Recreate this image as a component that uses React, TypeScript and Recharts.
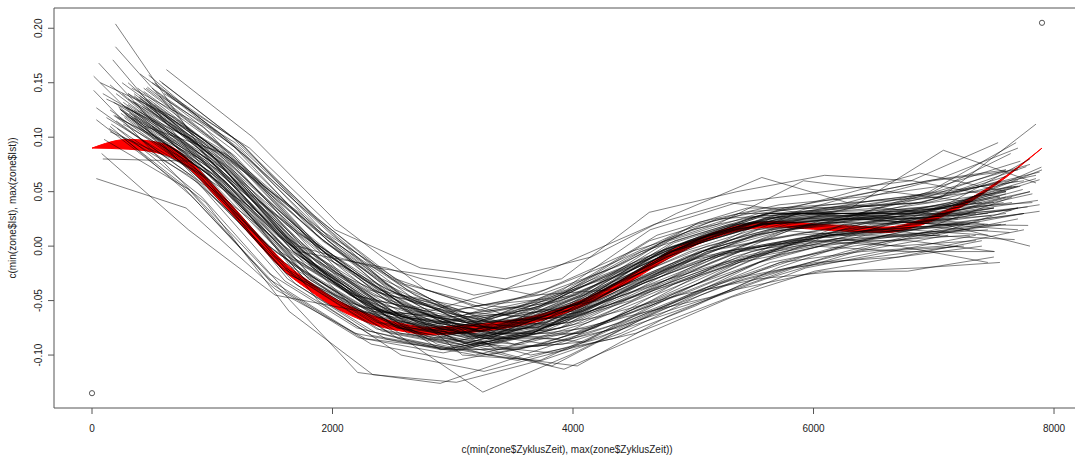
import React from 'react';
import {
  ComposedChart,
  Line,
  Area,
  Scatter,
  XAxis,
  YAxis,
  ReferenceArea,
} from 'recharts';

// axis setup (R default: data range padded by 4% on each side)
const X_DOMAIN: [number, number] = [-316, 8216];
const Y_DOMAIN: [number, number] = [-0.1486, 0.2186];
const X_TICKS = [0, 2000, 4000, 6000, 8000];
const Y_TICKS = [-0.1, -0.05, 0, 0.05, 0.1, 0.15, 0.2];

// the two points of plot(c(min, max), c(min, max))
const POINT_X = [0, 7900];
const POINT_Y = [-0.135, 0.205];

// one cycle per line: first time, last time, evenly spaced samples in between
const LINE_START = [
  195, 195, 173, 56, 14, 14, 36, 36, 619, 471, 90, 36, 300, 250, 350, 280, 400,
  200, 450, 300, 350, 420, 380, 150, 500, 250, 350, 450, 320, 550, 600, 260, 180,
  430, 330, 210, 370, 290, 520, 240, 160, 460, 340, 100, 390, 270, 560, 230, 80, 250,
  120, 480, 330, 210, 600, 150, 400, 260, 520, 70, 380, 300, 440, 180, 560, 230, 350,
  90, 470, 310, 150, 400, 200, 330, 430, 280, 500, 140, 360, 620, 240, 300, 450, 190, 530,
  250, 400, 150, 500, 300, 350, 220, 580, 120, 450, 270, 380,
];
const LINE_END = [
  7600, 7700, 7500, 7400, 7850, 7300, 7895, 7200, 7800, 7685, 7450, 7500, 7880, 7866,
  7880, 7880, 7785, 7673, 7507, 7535, 7770, 7646, 7630, 7850, 7400, 7200, 7600, 7400,
  7750, 7450, 7700, 7550, 7350, 7600, 7500, 7250, 7700, 7800, 7720, 7480, 7380, 7820,
  7580, 7150, 7740, 7050, 7600, 7350, 7300, 7600,
  7600, 7700, 7450, 7800, 7350, 7650, 7550, 7900, 7250, 7500, 7820, 7120, 7700, 7600,
  7480, 7750, 7300, 7650, 7880, 7420, 7700, 7600, 7550, 7750, 7680, 7350, 7800, 7450,
  7600, 7500, 7850, 7200, 7780, 7560, 7640,
  7750, 7600, 7700, 7500, 7800, 7650, 7450, 7700, 7550, 7850, 7300, 7720,
];
const LINE_Y = [
  [0.204, 0.085, -0.005, -0.06, -0.073, -0.045, 0.005, 0.03, 0.03, 0.03, 0.05],
  [0.183, 0.09, 0.0, -0.055, -0.07, -0.04, 0.01, 0.035, 0.035, 0.04, 0.06],
  [0.171, 0.075, -0.015, -0.065, -0.08, -0.05, -0.005, 0.02, 0.022, 0.02, 0.035],
  [0.168, 0.08, -0.01, -0.06, -0.075, -0.055, -0.01, 0.025, 0.03, 0.03, 0.04],
  [0.156, 0.07, -0.02, -0.07, -0.09, -0.07, -0.025, 0.01, 0.025, 0.045, 0.112],
  [0.143, 0.06, -0.025, -0.075, -0.095, -0.08, -0.04, -0.005, 0.01, 0.015, 0.03],
  [0.127, 0.065, -0.02, -0.07, -0.085, -0.065, -0.03, 0.005, 0.02, 0.035, 0.0725],
  [0.116, 0.055, -0.03, -0.08, -0.095, -0.075, -0.04, -0.01, 0.005, 0.02, 0.025],
  [0.162, 0.1, 0.02, -0.04, -0.065, -0.05, -0.01, 0.015, 0.025, 0.02, 0.0],
  [0.157, 0.09, 0.005, -0.05, -0.075, -0.06, -0.02, 0.01, 0.025, 0.05, 0.095],
  [0.08, 0.078, -0.005, -0.055, -0.08, -0.07, -0.035, -0.005, 0.005, 0.0, -0.015],
  [0.062, 0.035, -0.04, -0.085, -0.095, -0.075, -0.045, -0.015, 0.0, -0.005, -0.005],
  [0.14, 0.075, -0.01, -0.065, -0.075, -0.045, 0.005, 0.03, 0.03, 0.035, 0.061],
  [0.13, 0.065, -0.025, -0.075, -0.085, -0.055, -0.005, 0.02, 0.025, 0.03, 0.042],
  [0.125, 0.07, -0.02, -0.07, -0.08, -0.05, 0.0, 0.025, 0.025, 0.025, 0.038],
  [0.12, 0.06, -0.03, -0.08, -0.09, -0.07, -0.035, -0.005, 0.01, 0.02, 0.032],
  [0.135, 0.08, -0.01, -0.06, -0.075, -0.05, -0.005, 0.02, 0.025, 0.02, 0.019],
  [0.115, 0.055, -0.035, -0.085, -0.1, -0.08, -0.04, -0.01, 0.005, 0.01, 0.006],
  [0.145, 0.085, 0.0, -0.055, -0.08, -0.07, -0.035, -0.005, 0.005, 0.005, -0.005],
  [0.15, 0.08, -0.01, -0.06, -0.07, -0.04, 0.015, 0.04, 0.05, 0.06, 0.095],
  [0.138, 0.075, -0.015, -0.065, -0.075, -0.045, 0.005, 0.03, 0.04, 0.045, 0.073],
  [0.128, 0.072, -0.018, -0.068, -0.083, -0.053, -0.003, 0.022, 0.025, 0.028, 0.033],
  [0.11, 0.06, -0.028, -0.075, -0.092, -0.072, -0.035, -0.002, 0.01, 0.018, 0.0125],
  [0.148, 0.078, -0.012, -0.062, -0.078, -0.058, -0.018, 0.015, 0.035, 0.088, 0.058],
  [0.11, 0.045, -0.05, -0.1, -0.115, -0.095, -0.06, -0.03, -0.015, -0.01, 0.0],
  [0.1, 0.04, -0.06, -0.118, -0.125, -0.105, -0.07, -0.04, -0.02, -0.01, 0.0],
  [0.12, 0.06, -0.03, -0.08, -0.134, -0.1, -0.06, -0.03, -0.01, 0.01, 0.02],
  [0.13, 0.07, -0.02, -0.075, -0.095, -0.113, -0.08, -0.047, -0.023, -0.01, 0.005],
  [0.118, 0.058, -0.035, -0.085, -0.1, -0.11, -0.065, -0.03, -0.005, 0.015, 0.03],
  [0.125, 0.075, 0.01, -0.04, -0.07, -0.065, -0.04, -0.015, 0.0, 0.01, 0.015],
  [0.14, 0.09, 0.015, -0.02, -0.03, -0.01, 0.03, 0.063, 0.04, 0.06, 0.07],
  [0.132, 0.072, -0.005, -0.02, -0.045, -0.03, 0.031, 0.05, 0.065, 0.06, 0.045],
  [0.12, 0.065, -0.025, -0.06, -0.065, -0.04, -0.005, 0.02, 0.06, 0.05, 0.04],
  [0.142, 0.085, 0.01, -0.045, -0.06, -0.045, -0.01, 0.025, 0.045, 0.067, 0.05],
  [0.125, 0.062, -0.03, -0.08, -0.095, -0.09, -0.065, -0.04, -0.023, -0.023, -0.01],
  [0.108, 0.045, -0.042, -0.09, -0.105, -0.09, -0.065, -0.047, -0.02, -0.005, 0.0],
  [0.135, 0.07, -0.02, -0.072, -0.085, -0.06, -0.01, 0.015, 0.022, 0.022, 0.035],
  [0.128, 0.066, -0.024, -0.074, -0.083, -0.053, -0.005, 0.022, 0.028, 0.032, 0.05],
  [0.15, 0.088, 0.005, -0.052, -0.073, -0.047, 0.003, 0.028, 0.032, 0.035, 0.055],
  [0.122, 0.062, -0.028, -0.078, -0.092, -0.072, -0.034, -0.004, 0.01, 0.022, 0.028],
  [0.112, 0.058, -0.032, -0.082, -0.096, -0.076, -0.038, -0.008, 0.008, 0.016, 0.022],
  [0.146, 0.082, -0.006, -0.06, -0.077, -0.049, 0.001, 0.026, 0.028, 0.03, 0.048],
  [0.133, 0.071, -0.019, -0.069, -0.082, -0.054, -0.006, 0.021, 0.024, 0.026, 0.04],
  [0.098, 0.052, -0.036, -0.084, -0.098, -0.082, -0.046, -0.014, 0.004, 0.012, 0.018],
  [0.137, 0.076, -0.014, -0.066, -0.079, -0.051, -0.001, 0.026, 0.03, 0.03, 0.052],
  [0.118, 0.062, -0.03, -0.078, -0.094, -0.08, -0.044, -0.012, 0.002, 0.008, 0.01],
  [0.152, 0.092, 0.008, -0.048, -0.069, -0.043, 0.007, 0.032, 0.036, 0.04, 0.064],
  [0.126, 0.064, -0.026, -0.076, -0.09, -0.07, -0.032, -0.002, 0.012, 0.024, 0.03],
  [0.085, 0.015, -0.045, -0.06, -0.08, -0.075, -0.05, -0.02, 0.0, 0.005, 0.01],
  [0.14, 0.075, 0.012, -0.04, -0.07, -0.065, -0.035, -0.01, 0.01, 0.02, 0.03],
  [0.135, 0.1, 0.02, -0.055, -0.085, -0.068, -0.03, 0.0, 0.02, 0.03, 0.025, 0.045],
  [0.128, 0.06, -0.01, -0.05, -0.095, -0.088, -0.045, -0.01, 0.02, 0.01, 0.035],
  [0.145, 0.11, 0.04, -0.03, -0.07, -0.085, -0.075, -0.04, -0.005, 0.015, 0.01, 0.025, 0.02],
  [0.118, 0.08, 0.01, -0.04, -0.08, -0.08, -0.045, -0.005, 0.015, 0.025, 0.03, 0.05],
  [0.12, 0.055, -0.02, -0.08, -0.1, -0.085, -0.05, -0.01, 0.01, 0.0, 0.005],
  [0.105, 0.075, 0.03, -0.035, -0.075, -0.09, -0.075, -0.045, -0.01, 0.015, 0.025, 0.02, 0.045],
  [0.158, 0.105, 0.04, -0.02, -0.06, -0.065, -0.035, 0.0, 0.025, 0.035, 0.04, 0.06],
  [0.112, 0.068, -0.005, -0.06, -0.087, -0.07, -0.025, 0.01, 0.025, 0.03, 0.04, 0.07],
  [0.13, 0.07, -0.015, -0.07, -0.09, -0.07, -0.04, -0.005, 0.015, 0.02],
  [0.15, 0.118, 0.065, 0.005, -0.045, -0.08, -0.09, -0.07, -0.035, 0.0, 0.015, 0.025, 0.035],
  [0.124, 0.085, 0.03, -0.03, -0.065, -0.06, -0.03, 0.0, 0.02, 0.03, 0.035, 0.04],
  [0.14, 0.09, 0.02, -0.045, -0.08, -0.088, -0.06, -0.03, -0.005, 0.01],
  [0.11, 0.085, 0.025, -0.04, -0.1, -0.105, -0.08, -0.045, -0.015, 0.005, 0.02, 0.015],
  [0.132, 0.09, 0.035, -0.025, -0.055, -0.068, -0.05, -0.02, 0.01, 0.03, 0.03, 0.04, 0.05],
  [0.138, 0.095, 0.03, -0.035, -0.07, -0.075, -0.035, 0.0, 0.02, 0.025, 0.03, 0.045],
  [0.126, 0.06, 0.0, -0.05, -0.08, -0.1, -0.085, -0.055, -0.02, 0.005, 0.02, 0.03],
  [0.118, 0.07, -0.01, -0.06, -0.09, -0.11, -0.07, -0.035, -0.01, 0.01, 0.015],
  [0.14, 0.1, 0.045, -0.01, -0.055, -0.085, -0.085, -0.06, -0.03, 0.0, 0.02, 0.035, 0.055],
  [0.135, 0.08, 0.015, -0.045, -0.085, -0.07, -0.03, 0.0, 0.03, 0.04, 0.05, 0.068],
  [0.122, 0.078, 0.01, -0.05, -0.095, -0.095, -0.075, -0.035, -0.005, 0.01, 0.01, 0.02],
  [0.11, 0.045, -0.035, -0.116, -0.126, -0.1, -0.075, -0.045, -0.015, 0.0, 0.01, 0.025],
  [0.125, 0.072, 0.0, -0.02, -0.03, -0.045, -0.04, -0.01, 0.025, 0.045, 0.06, 0.07],
  [0.14, 0.085, 0.01, -0.045, -0.07, -0.078, -0.065, -0.045, -0.03, -0.023, -0.02, -0.015],
  [0.118, 0.07, -0.005, -0.06, -0.085, -0.092, -0.075, -0.04, -0.015, -0.005, 0.0, 0.015],
  [0.145, 0.095, 0.025, -0.03, -0.065, -0.085, -0.08, -0.05, -0.02, 0.005, 0.015, 0.035, 0.055],
  [0.128, 0.078, 0.005, -0.055, -0.09, -0.098, -0.08, -0.05, -0.02, -0.005, 0.01],
  [0.15, 0.1, 0.03, -0.03, -0.068, -0.072, -0.05, -0.015, 0.015, 0.025, 0.04, 0.08],
  [0.108, 0.065, 0.0, -0.055, -0.085, -0.092, -0.07, -0.04, -0.01, 0.01, 0.015, 0.01],
  [0.132, 0.088, 0.02, -0.04, -0.073, -0.067, -0.037, -0.005, 0.015, 0.025, 0.032, 0.048],
  [0.14, 0.08, 0.01, -0.045, -0.08, -0.08, -0.05, -0.02, 0.01, 0.025, 0.035],
  [0.125, 0.082, 0.015, -0.045, -0.077, -0.075, -0.043, -0.01, 0.015, 0.025, 0.028, 0.042, 0.062],
  [0.135, 0.08, 0.005, -0.055, -0.085, -0.075, -0.04, -0.01, 0.01, 0.02],
  [0.128, 0.072, 0.008, -0.05, -0.083, -0.077, -0.045, -0.005, 0.015, 0.022, 0.028, 0.036],
  [0.12, 0.078, 0.012, -0.048, -0.09, -0.105, -0.085, -0.05, -0.015, 0.005, 0.012, 0.02],
  [0.142, 0.088, 0.018, -0.04, -0.07, -0.065, -0.033, 0.003, 0.025, 0.035, 0.05, 0.085],
  [0.15, 0.095, 0.02, -0.04, -0.06, -0.045, -0.015, 0.02, 0.035, 0.04, 0.05, 0.06],
  [0.138, 0.08, 0.005, -0.05, -0.065, -0.05, -0.02, 0.015, 0.03, 0.028, 0.045, 0.07],
  [0.125, 0.07, -0.005, -0.055, -0.07, -0.055, -0.03, 0.005, 0.03, 0.035, 0.045, 0.055],
  [0.145, 0.09, 0.015, -0.035, -0.055, -0.06, -0.035, 0.0, 0.025, 0.035, 0.04],
  [0.13, 0.085, 0.01, -0.045, -0.06, -0.04, -0.01, 0.02, 0.04, 0.03, 0.035, 0.055, 0.075],
  [0.14, 0.082, 0.0, -0.045, -0.068, -0.058, -0.025, 0.005, 0.028, 0.038, 0.03, 0.04],
  [0.128, 0.068, -0.01, -0.058, -0.07, -0.05, -0.012, 0.018, 0.032, 0.025, 0.03],
  [0.15, 0.095, 0.025, -0.03, -0.055, -0.048, -0.02, 0.012, 0.035, 0.048, 0.062, 0.09],
  [0.118, 0.072, 0.0, -0.052, -0.072, -0.062, -0.03, 0.0, 0.022, 0.03, 0.032, 0.045],
  [0.135, 0.078, 0.008, -0.045, -0.062, -0.052, -0.022, 0.012, 0.03, 0.042, 0.05, 0.065],
  [0.122, 0.065, -0.012, -0.06, -0.075, -0.058, -0.025, 0.01, 0.03, 0.025, 0.02],
  [0.145, 0.088, 0.012, -0.04, -0.058, -0.045, -0.018, 0.022, 0.038, 0.045, 0.055, 0.078],
];

// smoothed fit, drawn as a thin red band
const RED_X = [
  0, 300, 600, 800, 1000, 1200, 1400, 1600, 1800, 2000, 2200, 2400, 2600, 2800, 3000,
  3300, 3600, 3900, 4200, 4500, 4800, 5100, 5400, 5700, 6000, 6300, 6600, 6900, 7200,
  7500, 7900,
];
const RED_HI = [
  0.09, 0.098, 0.094, 0.08, 0.057, 0.033, 0.008, -0.015, -0.032, -0.047, -0.058, -0.066,
  -0.0715, -0.0745, -0.0735, -0.0705, -0.066, -0.057, -0.043, -0.025, -0.005, 0.0095,
  0.0195, 0.0225, 0.0205, 0.0185, 0.0175, 0.0245, 0.038, 0.057, 0.09,
];
const RED_LO = [
  0.09, 0.089, 0.084, 0.072, 0.049, 0.025, 0.0, -0.023, -0.04, -0.055, -0.066, -0.074,
  -0.0785, -0.0815, -0.0805, -0.0775, -0.072, -0.063, -0.049, -0.031, -0.011, 0.0045,
  0.0145, 0.0175, 0.0155, 0.0135, 0.0125, 0.0195, 0.034, 0.055, 0.09,
];

const cycles = LINE_Y.map((ys, li) => {
  const x0 = LINE_START[li];
  const step = (LINE_END[li] - x0) / (ys.length - 1);
  return ys.map((y, i) => ({ x: x0 + i * step, y }));
});
const redBand = RED_X.map((x, i) => ({ x, band: [RED_LO[i], RED_HI[i]] }));
const points = POINT_X.map((x, i) => ({ x, y: POINT_Y[i] }));

const FONT = '"Liberation Sans", Arial, sans-serif';
const INK = '#222';

const XTick = (props: any) => (
  <text x={props.x} y={props.y + 16} textAnchor="middle" fontSize={10} fontFamily={FONT} fill={INK}>
    {props.payload.value}
  </text>
);

const YTick = (props: any) => {
  const tx = props.x - 4;
  return (
    <text
      x={tx}
      y={props.y}
      transform={`rotate(-90, ${tx}, ${props.y})`}
      textAnchor="middle"
      fontSize={10}
      fontFamily={FONT}
      fill={INK}
    >
      {Number(props.payload.value).toFixed(2)}
    </text>
  );
};

const Ring = (props: any) => (
  <circle cx={props.cx} cy={props.cy} r={2.6} fill="none" stroke="#555" strokeWidth={1} />
);

export default function App() {
  return (
    <div style={{ position: 'absolute', left: 0, top: 0, width: 1075, height: 457, overflow: 'hidden', background: '#fff' }}>
      <ComposedChart width={1090} height={457} margin={{ top: 8, right: 10, bottom: 0, left: 0 }}>
        <XAxis
          type="number"
          dataKey="x"
          domain={X_DOMAIN}
          ticks={X_TICKS}
          interval={0}
          allowDataOverflow
          height={49}
          axisLine={false}
          tickSize={6}
          tickLine={{ stroke: '#555' }}
          tick={<XTick />}
          label={{
            content: (p: any) => (
              <text
                x={p.viewBox.x + p.viewBox.width / 2}
                y={p.viewBox.y + 45}
                textAnchor="middle"
                fontSize={10}
                fontFamily={FONT}
                fill={INK}
              >
                c(min(zone$ZyklusZeit), max(zone$ZyklusZeit))
              </text>
            ),
          }}
        />
        <YAxis
          type="number"
          dataKey="y"
          domain={Y_DOMAIN}
          ticks={Y_TICKS}
          interval={0}
          allowDataOverflow
          width={54}
          axisLine={false}
          tickSize={6}
          tickLine={{ stroke: '#555' }}
          tick={<YTick />}
          label={{
            content: (p: any) => {
              const cy = p.viewBox.y + p.viewBox.height / 2;
              return (
                <text
                  x={15.5}
                  y={cy}
                  transform={`rotate(-90, 15.5, ${cy})`}
                  textAnchor="middle"
                  fontSize={10}
                  fontFamily={FONT}
                  fill={INK}
                >
                  c(min(zone$Ist), max(zone$Ist))
                </text>
              );
            },
          }}
        />
        <ReferenceArea
          x1={X_DOMAIN[0]}
          x2={X_DOMAIN[1]}
          y1={Y_DOMAIN[0]}
          y2={Y_DOMAIN[1]}
          fill="none"
          stroke="#555"
          strokeWidth={1}
          ifOverflow="visible"
        />
        <Scatter data={points} dataKey="y" shape={<Ring />} isAnimationActive={false} />
        {cycles.map((d, i) => (
          <Line
            key={`c${i}`}
            data={d}
            dataKey="y"
            type="linear"
            stroke="rgba(0,0,0,0.5)"
            strokeWidth={1}
            dot={false}
            activeDot={false}
            isAnimationActive={false}
          />
        ))}
        <Area
          data={redBand}
          dataKey="band"
          type="monotone"
          stroke="#ff0000"
          strokeWidth={1}
          fill="#ff0000"
          fillOpacity={1}
          dot={false}
          activeDot={false}
          isAnimationActive={false}
        />
      </ComposedChart>
    </div>
  );
}
